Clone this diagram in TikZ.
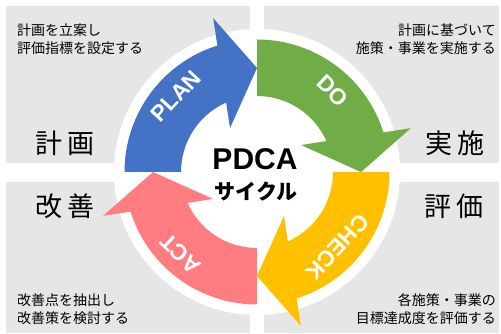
\documentclass[tikz,border=0pt]{standalone}
\usepackage{fontspec}
\setmainfont{Liberation Sans}
\newfontfamily\jp{Noto Sans CJK JP}
\definecolor{qgray}{HTML}{E7E6E6}
\definecolor{planblue}{HTML}{4472C4}
\definecolor{dogreen}{HTML}{70AD47}
\definecolor{checkyel}{HTML}{FFC000}
\definecolor{actpink}{HTML}{FF7C80}
\tikzset{
  quad/.style={fill=qgray},
  small/.style={inner sep=0pt, font=\jp\fontsize{14}{17.5}\selectfont},
  big/.style={inner sep=0pt, font=\jp\fontsize{27}{30}\selectfont},
  arrlab/.style={inner sep=0pt, text=white, font=\bfseries\fontsize{22.5}{24}\selectfont}
}
\begin{document}
\begin{tikzpicture}[x=1pt,y=1pt]
\useasboundingbox (0,0) rectangle (501,334);
\fill[white] (0,0) rectangle (501,334);
% quadrants
\fill[quad] (6,171) rectangle (250,328);
\fill[quad] (264,171) rectangle (499,328);
\fill[quad] (6,1) rectangle (250,152);
\fill[quad] (264,1) rectangle (499,152);
\coordinate (c) at (257,162);
\fill[white] (c) circle[radius=143pt];
% cycle arrows
\foreach \col/\o in {planblue/0, dogreen/90, checkyel/180, actpink/270}{
  \fill[\col] ([shift={(c)}]{180-\o}:132.5)
    arc[start angle={180-\o}, end angle={107.4-\o}, radius=132.5pt]
    -- ([shift={(c)}]{105.9-\o}:160)
    -- ([shift={(c)}]{90-\o}:104)
    -- ([shift={(c)}]{121.5-\o}:51.6)
    -- ([shift={(c)}]{114-\o}:76)
    arc[start angle={114-\o}, end angle={180-\o}, radius=76pt]
    -- cycle;
}
% arrow labels
\node[arrlab, rotate=47] (plan) at ([shift={(c)}]137:111) {PLAN};
\node[arrlab, rotate=-43] (do) at ([shift={(c)}]47:111) {DO};
\node[arrlab, rotate=-133] (check) at ([shift={(c)}]-43:110) {CHECK};
\node[arrlab, rotate=137] (act) at ([shift={(c)}]227:112) {ACT};
% centre
\node[inner sep=0pt, font=\bfseries\fontsize{30}{32}\selectfont] (pdca) at (255,175) {PDCA};
\node[inner sep=0pt, font=\jp\bfseries\fontsize{21}{24}\selectfont] (cyc) at (256,142) {サイクル};
% quadrant labels
\node[big] (keikaku) at (65,191) {計\hspace{6pt}画};
\node[big] (jisshi) at (455,191) {実\hspace{6pt}施};
\node[big] (kaizen) at (65,128) {改\hspace{6pt}善};
\node[big] (hyouka) at (454,128) {評\hspace{6pt}価};
% descriptions
\node[small, anchor=west, align=left] (d1) at (17,295) {計画を立案し\\評価指標を設定する};
\node[small, anchor=east, align=right] (d2) at (496,295) {計画に基づいて\\施策・事業を実施する};
\node[small, anchor=west, align=left] (d3) at (17,25) {改善点を抽出し\\改善策を検討する};
\node[small, anchor=east, align=right] (d4) at (496,25) {各施策・事業の\\目標達成度を評価する};
\end{tikzpicture}
\end{document}
